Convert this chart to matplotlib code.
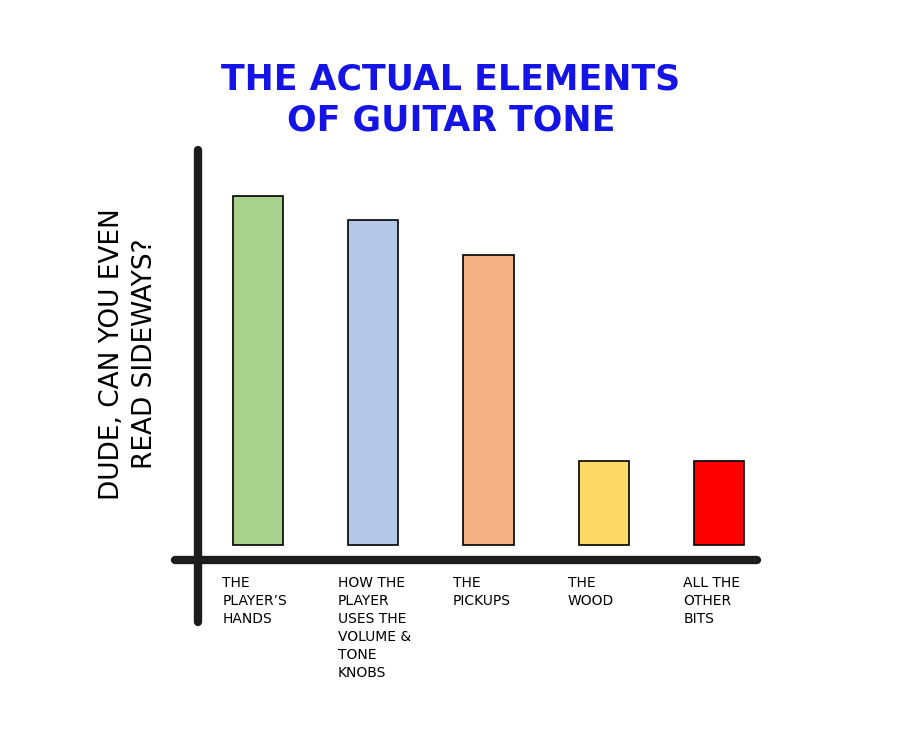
import matplotlib
matplotlib.use("Agg")
import matplotlib.pyplot as plt
import numpy as np

categories = ["THE\nPLAYER\u2019S\nHANDS",
              "HOW THE\nPLAYER\nUSES THE\nVOLUME &\nTONE\nKNOBS",
              "THE\nPICKUPS",
              "THE\nWOOD",
              "ALL THE\nOTHER\nBITS"]
values = [100, 93, 83, 24, 24]
colors = ["#a9d18e", "#b4c7e7", "#f4b183", "#ffd966", "#ff0000"]
title = "THE ACTUAL ELEMENTS\nOF GUITAR TONE"
ylabel = "DUDE, CAN YOU EVEN\nREAD SIDEWAYS?"

W, H = 912, 735
fig = plt.figure(figsize=(W / 100, H / 100), dpi=100)
fig.patch.set_facecolor("white")

ax = fig.add_axes([198 / W, 1 - 560 / H, (757 - 198) / W, (560 - 150) / H])
x = np.arange(len(values))
ax.bar(x, values, width=0.434, color=colors, edgecolor="black", linewidth=1.2)
ax.set_xlim(-0.521, 4.33)
ax.set_ylim(-4.3, 113.2)
for s in ax.spines.values():
    s.set_visible(False)
ax.set_xticks([])
ax.set_yticks([])

axis_col = "#1c1c1c"
# vertical axis line (extends below the x-axis)
ax.plot([0, 0], [1.0, -(622 - 560) / 410], transform=ax.transAxes, color=axis_col,
        lw=6, solid_capstyle="round", clip_on=False)
# horizontal axis line (extends left of the y-axis)
ax.plot([-(198 - 175) / 559, 1.0], [0, 0], transform=ax.transAxes, color=axis_col,
        lw=6, solid_capstyle="round", clip_on=False)

trans = matplotlib.transforms.blended_transform_factory(ax.transData, ax.transAxes)
for xi, lab in zip(x, categories):
    ax.text(xi - 0.31, -0.04, lab, transform=trans, ha="left", va="top",
            fontsize=10, family="DejaVu Sans", linespacing=1.35, color="black")

fig.text(451 / W, 1 - 100 / H, title, ha="center", va="center", color="#1414e6",
         fontsize=25, family="DejaVu Sans", fontweight="bold", linespacing=1.25)
fig.text(129 / W, 1 - 354 / H, ylabel, ha="center", va="center", rotation=90,
         fontsize=19, family="DejaVu Sans", color="black", linespacing=1.35)

fig.savefig("out.png", dpi=100, facecolor="white")
